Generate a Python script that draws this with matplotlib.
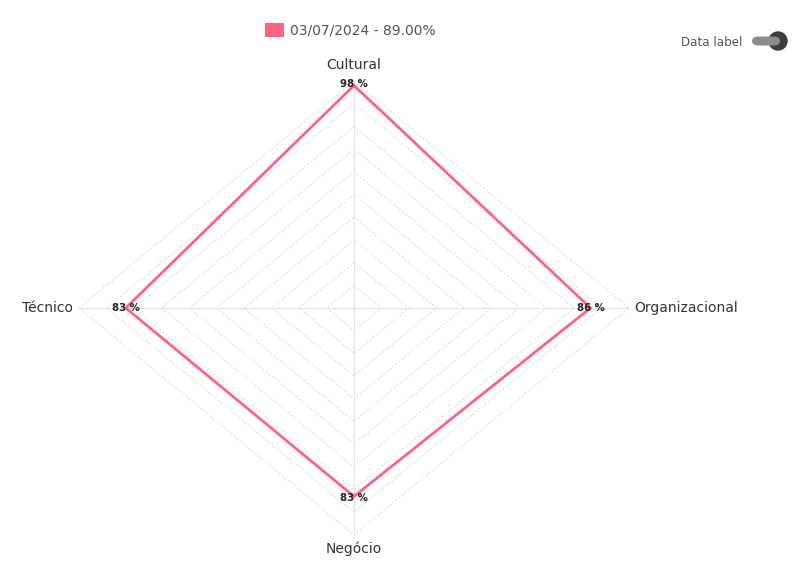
import matplotlib.pyplot as plt
import numpy as np
from matplotlib.patches import FancyBboxPatch, Circle

# data
categories = ['Cultural', 'Organizacional', 'Negócio', 'Técnico']
values = [98, 86, 83, 83]
series_label = '03/07/2024 - 89.00%'
ring_levels = [10, 20, 30, 40, 50, 60, 70, 80, 90, 100]

plt.rcParams['font.family'] = ['DejaVu Sans']
pink = '#ff6384'

fig = plt.figure(figsize=(7.93, 5.83), dpi=100)
W, H = 793, 583
cx, cy, rx, ry = 354, 308, 275, 227
ax = fig.add_axes([(cx - rx) / W, (H - cy - ry) / H, 2 * rx / W, 2 * ry / H])
ax.set_xlim(-100, 100)
ax.set_ylim(-100, 100)
ax.axis('off')

ang = np.arange(len(categories)) * 2 * np.pi / len(categories)
sx, sy = np.sin(ang), np.cos(ang)

# grid rings
for lv in ring_levels:
    ax.plot(np.append(sx, sx[0]) * lv, np.append(sy, sy[0]) * lv,
            color='#d9d9d9', lw=0.7, ls=(0, (2, 2)), zorder=1, clip_on=False)
# spokes
for a, b in zip(sx, sy):
    ax.plot([0, a * 100], [0, b * 100], color='#e6e6e6', lw=0.9, zorder=1, clip_on=False)

# series
v = np.array(values)
ax.plot(np.append(sx * v, sx[0] * v[0]), np.append(sy * v, sy[0] * v[0]),
        color=pink, lw=2.0, zorder=3, clip_on=False, solid_joinstyle='miter')

for a, b, val in zip(sx, sy, values):
    ax.text(a * val, b * val + 0.5 * b, f'{val} %', ha='center', va='center', fontsize=7.3,
            fontweight='bold', color='#222222', zorder=4)

# category labels
offsets = [(0, 104, 'center', 'bottom'), (102, 0, 'left', 'center'),
           (0, -103, 'center', 'top'), (-102, 0, 'right', 'center')]
for name, (ox, oy, ha, va) in zip(categories, offsets):
    ax.text(ox, oy, name, ha=ha, va=va, fontsize=10, color='#333333', clip_on=False)

# legend
fig.patches.append(plt.Rectangle((265 / W, 1 - 37 / H), 19 / W, 14 / H,
                                 transform=fig.transFigure, facecolor=pink,
                                 edgecolor='none'))
fig.text(290 / W, 1 - 30 / H, series_label, ha='left', va='center', fontsize=10,
         color='#555555')

# data label toggle
fig.text(742 / W, 1 - 42.5 / H, 'Data label', ha='right', va='center', fontsize=8.6,
         color='#555555')
fig.patches.append(FancyBboxPatch((752 / W, 1 - 45.5 / H), 28 / W, 9 / H,
                                  boxstyle='round,pad=0,rounding_size=0.008',
                                  transform=fig.transFigure, facecolor='#8c8c8c',
                                  edgecolor='none'))
tog = fig.add_axes([768 / W, 1 - 51 / H, 20 / W, 20 / H])
tog.set_xlim(-1, 1)
tog.set_ylim(-1, 1)
tog.set_aspect('equal')
tog.axis('off')
tog.add_patch(Circle((0, 0), 0.9, color='#3d3d3d'))

fig.savefig('out.png', dpi=100, facecolor='white')
